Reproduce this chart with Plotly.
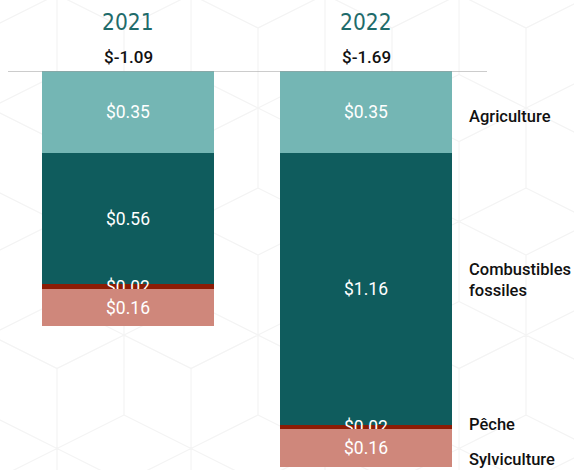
import plotly.graph_objects as go

# ---- data ----
years = ["2021", "2022"]
sectors = ["Agriculture", "Combustibles fossiles", "Pêche", "Sylviculture"]
sector_labels = ["Agriculture", "Combustibles<br>fossiles", "Pêche", "Sylviculture"]
agriculture = [-0.35, -0.35]
combustibles = [-0.56, -1.16]
peche = [-0.02, -0.02]
sylviculture = [-0.16, -0.16]
series = [agriculture, combustibles, peche, sylviculture]

# ---- styles ----
colors = ["#74b6b4", "#0f5c5d", "#8c1c05", "#cf877b"]
label_yshift = [-4, 9, 3, -11]
W, H = 574, 470
TOP = 71

xpos = list(range(len(years)))
fig = go.Figure()
for name, vals, col in zip(sectors, series, colors):
    fig.add_trace(go.Bar(
        x=xpos, y=vals, name=name, width=0.723,
        marker=dict(color=col, line=dict(width=0)),
        text=[f"${abs(v):.2f}" for v in vals],
        textposition="inside", insidetextanchor="middle",
        textfont=dict(family="Roboto", size=17.5, color="white"),
        hoverinfo="skip",
    ))

# year headers and totals
totals = [sum(s[i] for s in series) for i in range(len(years))]
for i, (yr, tot) in enumerate(zip(years, totals)):
    fig.add_annotation(x=i, xref="x", y=(H - 22) / (H - TOP), yref="paper",
                       text=yr, showarrow=False, yanchor="middle",
                       font=dict(family="DejaVu Sans Condensed, Liberation Sans Narrow, Roboto",
                                 size=22.5, color="#1f6b6b"))
    fig.add_annotation(x=i, xref="x", y=(H - 57) / (H - TOP), yref="paper",
                       text=f"${tot:.2f}", showarrow=False, yanchor="middle",
                       font=dict(family="Roboto", size=17, color="#111111", weight=500))

# right-side sector labels, aligned with the 2022 stack
cum = 0.0
for lab, vals, ys in zip(sector_labels, series, label_yshift):
    mid = cum + vals[1] / 2
    cum += vals[1]
    fig.add_annotation(x=467 / W, xref="paper", y=mid, yref="y", text=lab,
                       showarrow=False, xanchor="left", yanchor="middle", align="left",
                       yshift=ys,
                       font=dict(family="Roboto", size=16.5, color="#111111", weight=500))

# faint isometric cube background pattern
def px(x, y):
    return f"{x / W:.4f},{(H - y) / (H - TOP):.4f}"

hw, r, L = 67, 33.5, 80
path = []
for row in range(-1, 5):
    T = 335 - row * (r + L)
    off = (row % 2) * hw
    for k in range(-1, 6):
        cx = 124 + off + k * 2 * hw
        top = (cx, T)
        ur = (cx + hw, T + r)
        lr = (cx + hw, T + r + L)
        bot = (cx, T + 2 * r + L)
        ll = (cx - hw, T + r + L)
        ul = (cx - hw, T + r)
        c = (cx, T + L)
        pts = [top, ur, lr, bot, ll, ul, top]
        path.append("M" + " L".join(px(*p) for p in pts))
        path.append(f"M{px(*c)} L{px(*top)}")
        path.append(f"M{px(*c)} L{px(*ll)}")
        path.append(f"M{px(*c)} L{px(*lr)}")
fig.add_shape(type="path", path=" ".join(path), xref="paper", yref="paper",
              line=dict(color="#f4f4f4", width=1.2), layer="below")

# baseline
fig.add_shape(type="line", xref="paper", yref="y", x0=8 / W, x1=487 / W, y0=0, y1=0,
              line=dict(color="#9a9a9a", width=1.2), layer="above")

ymin = -(H - TOP) / 234.3
fig.update_layout(
    width=W, height=H, barmode="relative", showlegend=False,
    margin=dict(l=0, r=0, t=TOP, b=0),
    paper_bgcolor="white", plot_bgcolor="rgba(0,0,0,0)",
    uniformtext=dict(minsize=17.5, mode="show"),
    xaxis=dict(range=[-128 / 238, (W - 128) / 238], visible=False, fixedrange=True),
    yaxis=dict(range=[ymin, 0], visible=False, fixedrange=True),
    bargap=0,
)
fig.write_html("out.html")
